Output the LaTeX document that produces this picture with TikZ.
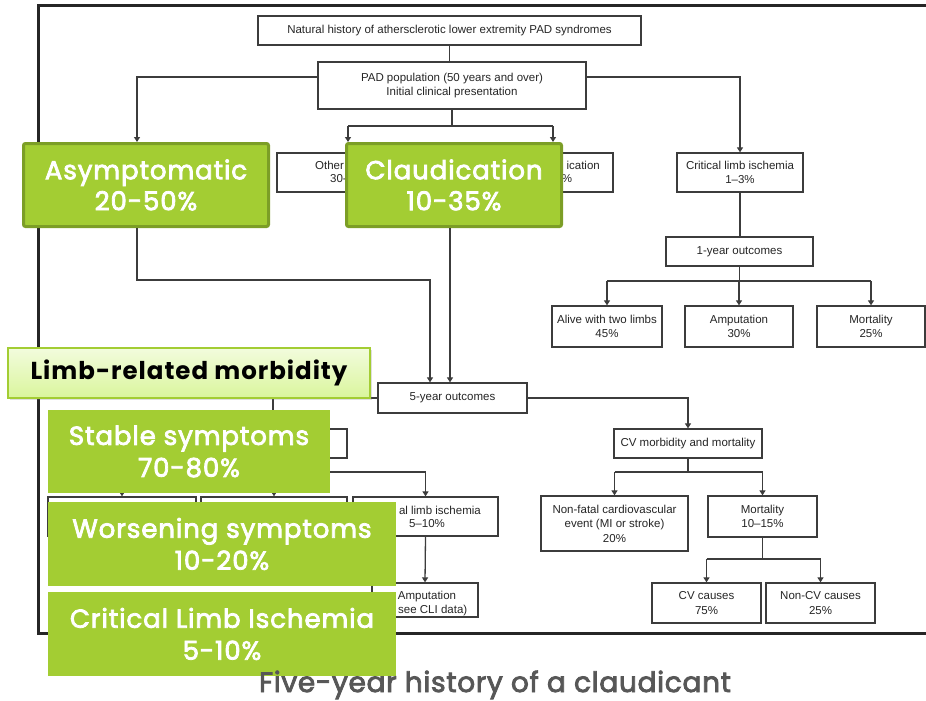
\documentclass[tikz,border=0pt]{standalone}
\usepackage{fontspec}
\setmainfont{Liberation Sans}
\newfontfamily\gfont{Poppins}[LetterSpace=4]
\newfontfamily\gfontsb{Poppins}[LetterSpace=3.5, FakeBold=3]
\newfontfamily\capfont{Poppins}[LetterSpace=2.5, FakeBold=3]
\usetikzlibrary{arrows.meta,shadows}
\definecolor{lineg}{HTML}{3C3C3C}
\definecolor{leaf}{HTML}{A3CD33}
\definecolor{leafdark}{HTML}{7C9E26}
\definecolor{captiong}{HTML}{575757}
\definecolor{palelime}{HTML}{F2FCDD}
\definecolor{lime}{HTML}{DAF59C}
\tikzset{
  box/.style={draw=lineg, line width=1.3pt, fill=white, inner sep=0pt, align=center,
    font=\fontsize{11.5}{14.5}\selectfont, text=black!85},
  sz/.style 2 args={minimum width=#1, minimum height=#2},
  note/.style={inner sep=0pt, font=\fontsize{11.5}{14.5}\selectfont, text=black!85},
  link/.style={draw=lineg, line width=1.3pt},
  arr/.style={link, -{Triangle[width=6pt,length=5pt]}},
  tag/.style={fill=leaf, draw=leafdark, line width=3pt, rounded corners=2pt, text=white,
    inner sep=0pt, align=center, font=\gfontsb\fontsize{26}{31}\selectfont},
  flat/.style={fill=leaf, text=white, inner sep=0pt, align=center,
    font=\gfontsb\fontsize{26}{32}\selectfont},
}
\begin{document}
\begin{tikzpicture}[x=1pt,y=-1pt]
\useasboundingbox (0,0) rectangle (926,701);
% outer frame of the flow chart
\draw[line width=3pt, black!85] (926,6) -- (38,6) -- (38,633) -- (926,633);

% flow chart boxes
\node[box, sz={383}{29}] (title) at (449.5,30.5) {Natural history of athersclerotic lower extremity PAD syndromes};
\node[box, sz={268}{47}] (pad) at (452,85.5) {PAD population (50 years and over)\\Initial clinical presentation};
\node[box, sz={142}{39}] (other) at (348,172.5) {};
\node[box, sz={120}{39}] (classic) at (553,172.5) {};
\node[box, sz={126}{39}] (cli1) at (740,172.5) {Critical limb ischemia\\1--3\%};
\node[box, sz={147}{29}] (oneyr) at (739.5,251.5) {1-year outcomes};
\node[box, sz={110}{41}] (alive) at (607,326.5) {Alive with two limbs\\45\%};
\node[box, sz={108}{41}] (amp1) at (739,326.5) {Amputation\\30\%};
\node[box, sz={108}{41}] (mort1) at (871,326.5) {Mortality\\25\%};
\node[box, sz={149}{30}] (fiveyr) at (452.5,398) {5-year outcomes};
\node[box, sz={148}{29}] (cvmm) at (688,443.5) {CV morbidity and mortality};
\node[box, sz={147}{55}] (nonfatal) at (614.5,523.5) {Non-fatal cardiovascular\\event (MI or stroke)\\20\%};
\node[box, sz={109}{41}] (mort2) at (762.5,516.5) {Mortality\\10--15\%};
\node[box, sz={109}{40}] (cvc) at (706.5,603) {CV causes\\75\%};
\node[box, sz={109}{40}] (noncv) at (820.5,603) {Non-CV causes\\25\%};
\node[box, sz={148}{29}] (limb) at (273,443.5) {};
\node[box, sz={148}{39}] (stable2) at (122,516.5) {};
\node[box, sz={146}{39}] (worse2) at (274,516.5) {};
\node[box, sz={145}{39}] (cli2) at (425.5,516.5) {};
\node[box, sz={106}{34}] (amp2) at (425,600) {};

% text left uncovered inside the partly hidden boxes
\node[note, anchor=west] (othera) at (315,165) {Other};
\node[note, anchor=west] (otherb) at (330,179) {30-};
\node[note, anchor=east] (classica) at (600,165) {ication};
\node[note] (classicb) at (567,179) {\%};
\node[note, anchor=east] (cli2a) at (481,510) {al limb ischemia};
\node[note] (cli2b) at (427,524) {5--10\%};
\node[note] (amp2a) at (427,597) {Amputation};
\node[note, anchor=west] (amp2b) at (398,611) {see CLI data)};

% connectors of the flow chart
\draw[link] (title.south) -- (title.south |- pad.north);
\draw[arr] ([yshift=8.5pt]pad.east) -| (cli1.north);
\draw[link] (cli1.south) -- (cli1.south |- oneyr.north);
\coordinate (jone) at (739,281);
\draw[link] (oneyr.south) -- (oneyr.south |- jone);
\draw[link] (alive.north |- jone) -- (mort1.north |- jone);
\draw[arr] (alive.north |- jone) -- (alive.north);
\draw[arr] (amp1.north |- jone) -- (amp1.north);
\draw[arr] (mort1.north |- jone) -- (mort1.north);

\draw[arr] (fiveyr.east) -| (cvmm.north);
\coordinate (jcv) at (688,472);
\draw[link] (cvmm.south) -- (cvmm.south |- jcv);
\draw[link] (nonfatal.north |- jcv) -- (mort2.north |- jcv);
\draw[arr] (nonfatal.north |- jcv) -- (nonfatal.north);
\draw[arr] (mort2.north |- jcv) -- (mort2.north);
\coordinate (jm) at (762.5,559);
\draw[link] (mort2.south) -- (mort2.south |- jm);
\draw[link] (cvc.north |- jm) -- (noncv.north |- jm);
\draw[arr] (cvc.north |- jm) -- (cvc.north);
\draw[arr] (noncv.north |- jm) -- (noncv.north);

\draw[link] (fiveyr.west) -| (limb.north);
\coordinate (jl) at (273,472);
\draw[link] (limb.south) -- (limb.south |- jl);
\draw[link] (stable2.north |- jl) -- (cli2.north |- jl);
\draw[arr] (stable2.north |- jl) -- (stable2.north);
\draw[arr] (worse2.north |- jl) -- (worse2.north);
\draw[arr] (cli2.north |- jl) -- (cli2.north);
\draw[arr] (cli2.south) -- (amp2.north);

% highlighted presentation boxes
\node[tag, sz={245}{83}] (asym) at (146,185) {Asymptomatic\\20-50\%};
\node[tag, sz={215}{83}] (claud) at (454,185) {Claudication\\10-35\%};

\draw[arr] ([yshift=8.5pt]pad.west) -| ([xshift=-9pt]asym.north);
\coordinate (jc) at (452,126);
\draw[link] (pad.south) -- (pad.south |- jc);
\draw[link] (other.north |- jc) -- (classic.north |- jc);
\draw[arr] (other.north |- jc) -- (other.north |- claud.north);
\draw[arr] (classic.north |- jc) -- (classic.north |- claud.north);
\coordinate (ja) at (137,280);
\draw[arr] ([xshift=-9pt]asym.south) -- (ja) -| ([xshift=-22.5pt]fiveyr.north);
\draw[arr] ([xshift=-4pt]claud.south) -- ([xshift=-4pt]claud.south |- fiveyr.north);

% limb outcome call-outs
\node[draw=leaf, line width=2pt, top color=palelime, bottom color=lime,
  drop shadow={opacity=0.25, shadow xshift=1.5pt, shadow yshift=-2pt},
  sz={362}{50}, inner sep=0pt, text=black,
  font=\gfont\bfseries\fontsize{24.5}{28}\selectfont] (lrm) at (189,373) {Limb-related morbidity};
\node[flat, sz={282}{83}] (stab) at (189,451.5) {Stable symptoms\\70-80\%};
\node[flat, sz={348}{84}] (wors) at (222,544) {Worsening symptoms\\10-20\%};
\node[flat, sz={348}{84}] (critg) at (222,634) {Critical Limb Ischemia\\5-10\%};

% caption
\node[font=\capfont\fontsize{28}{32}\selectfont, text=captiong, inner sep=0pt, anchor=base] (cap) at (495,692) {Five-year history of a claudicant};
\end{tikzpicture}
\end{document}
